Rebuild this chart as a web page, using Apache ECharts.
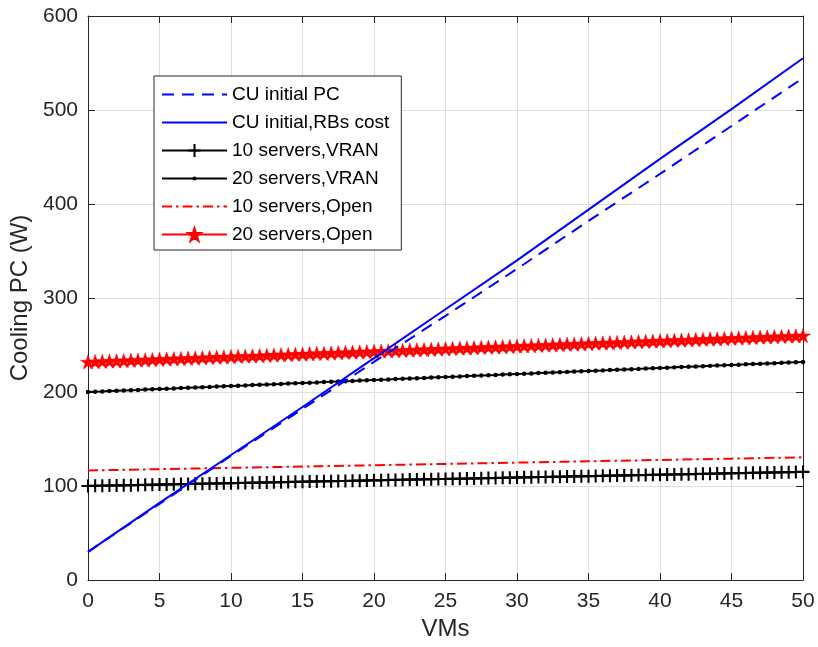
<!DOCTYPE html>
<html>
<head>
<meta charset="utf-8">
<script src="https://cdn.jsdelivr.net/npm/echarts@6/dist/echarts.min.js"></script>
<style>html,body{margin:0;padding:0;background:#fff;}#c{width:818px;height:647px;}</style>
</head>
<body>
<div id="c"></div>
<script>
// ---- data ----
var seriesNames = ['CU initial PC', 'CU initial,RBs cost', '10 servers,VRAN', '20 servers,VRAN', '10 servers,Open', '20 servers,Open'];
var xTicks = [0, 5, 10, 15, 20, 25, 30, 35, 40, 45, 50];
var yTicks = [0, 100, 200, 300, 400, 500, 600];

// blue lines (sampled every 5 VMs)
var blueX = [0, 5, 10, 15, 20, 25, 30, 35, 40, 45, 50];
var cuInitialPC = [30, 81, 132, 182, 232, 281, 331, 382, 432, 483, 534];
var cuInitialRBs = [30, 82, 133, 184, 236, 288, 340, 394, 448, 501, 555];

// open 10 servers (dash-dot, sampled every 5 VMs)
var open10 = [116.5, 117.9, 119.3, 120.7, 122.1, 123.5, 124.9, 126.3, 127.7, 129.1, 130.5];

// marker series (every 0.5 VM)
var markX = [0,0.5,1,1.5,2,2.5,3,3.5,4,4.5,5,5.5,6,6.5,7,7.5,8,8.5,9,9.5,10,10.5,11,11.5,12,12.5,13,13.5,14,14.5,15,15.5,16,16.5,17,17.5,18,18.5,19,19.5,20,20.5,21,21.5,22,22.5,23,23.5,24,24.5,25,25.5,26,26.5,27,27.5,28,28.5,29,29.5,30,30.5,31,31.5,32,32.5,33,33.5,34,34.5,35,35.5,36,36.5,37,37.5,38,38.5,39,39.5,40,40.5,41,41.5,42,42.5,43,43.5,44,44.5,45,45.5,46,46.5,47,47.5,48,48.5,49,49.5,50];
var vran10 = [100.0,100.2,100.3,100.5,100.6,100.8,100.9,101.1,101.2,101.4,101.5,
101.7,101.8,102.0,102.1,102.3,102.4,102.6,102.7,102.9,103.0,
103.2,103.3,103.5,103.6,103.8,103.9,104.1,104.2,104.4,104.5,
104.7,104.8,105.0,105.1,105.3,105.4,105.6,105.7,105.9,106.0,
106.2,106.3,106.5,106.6,106.8,106.9,107.1,107.2,107.4,107.5,
107.7,107.8,108.0,108.1,108.3,108.4,108.6,108.7,108.9,109.0,
109.2,109.3,109.5,109.6,109.8,109.9,110.1,110.2,110.4,110.5,
110.7,110.8,111.0,111.1,111.3,111.4,111.6,111.7,111.9,112.0,
112.2,112.3,112.5,112.6,112.8,112.9,113.1,113.2,113.4,113.5,
113.7,113.8,114.0,114.1,114.3,114.4,114.6,114.7,114.9,115.0];
var vran20 = [200.0,200.3,200.6,201.0,201.3,201.6,201.9,202.2,202.6,202.9,203.2,
203.5,203.8,204.2,204.5,204.8,205.1,205.4,205.8,206.1,206.4,
206.7,207.0,207.4,207.7,208.0,208.3,208.6,209.0,209.3,209.6,
209.9,210.2,210.6,210.9,211.2,211.5,211.8,212.2,212.5,212.8,
213.1,213.4,213.8,214.1,214.4,214.7,215.0,215.4,215.7,216.0,
216.3,216.6,217.0,217.3,217.6,217.9,218.2,218.6,218.9,219.2,
219.5,219.8,220.2,220.5,220.8,221.1,221.4,221.8,222.1,222.4,
222.7,223.0,223.4,223.7,224.0,224.3,224.6,225.0,225.3,225.6,
225.9,226.2,226.6,226.9,227.2,227.5,227.8,228.2,228.5,228.8,
229.1,229.4,229.8,230.1,230.4,230.7,231.0,231.4,231.7,232.0];
var open20 = [232.0,232.3,232.6,232.8,233.1,233.4,233.7,234.0,234.2,234.5,234.8,
235.1,235.4,235.6,235.9,236.2,236.5,236.8,237.0,237.3,237.6,
237.9,238.2,238.4,238.7,239.0,239.3,239.6,239.8,240.1,240.4,
240.7,241.0,241.2,241.5,241.8,242.1,242.4,242.6,242.9,243.2,
243.5,243.8,244.0,244.3,244.6,244.9,245.2,245.4,245.7,246.0,
246.3,246.6,246.8,247.1,247.4,247.7,248.0,248.2,248.5,248.8,
249.1,249.4,249.6,249.9,250.2,250.5,250.8,251.0,251.3,251.6,
251.9,252.2,252.4,252.7,253.0,253.3,253.6,253.8,254.1,254.4,
254.7,255.0,255.2,255.5,255.8,256.1,256.4,256.6,256.9,257.2,
257.5,257.8,258.0,258.3,258.6,258.9,259.2,259.4,259.7,260.0];

// ---- build ----
function zip(xs, ys) { return xs.map(function (x, i) { return [x, ys[i]]; }); }

var PLUS = 'path://M-1.6,-10h3.2v20h-3.2z M-10,-1.6h20v3.2h-20z';
var DOT = 'path://M-10,-10h0.05v0.05h-0.05z M10,10h-0.05v-0.05h0.05z M-3.2,0a3.2,3.2 0 1,0 6.4,0a3.2,3.2 0 1,0 -6.4,0z';
var STAR = 'path://M0,-100 L22.45,-30.9 L95.1,-30.9 L36.3,11.8 L58.8,80.9 L0,38.2 L-58.8,80.9 L-36.3,11.8 L-95.1,-30.9 L-22.45,-30.9 Z';

var axisColor = '#262626';
var font = 'Liberation Sans, Arial, Helvetica, sans-serif';
var noSymbol = { 0: true, 1: true, 4: true };

var legendData = seriesNames.map(function (n, i) {
  return noSymbol[i] ? { name: n, itemStyle: { opacity: 0 } } : { name: n };
});

var chart = echarts.init(document.getElementById('c'), null, { renderer: 'canvas' });
chart.setOption({
  animation: false,
  backgroundColor: '#ffffff',
  grid: { left: 88, right: 15, top: 16, bottom: 67, containLabel: false },
  legend: {
    orient: 'vertical',
    left: 154, top: 76,
    padding: [9, 12, 6, 7],
    itemGap: 9,
    itemWidth: 65,
    itemHeight: 16,
    backgroundColor: '#ffffff',
    borderColor: axisColor,
    borderWidth: 1,
    borderRadius: 0,
    textStyle: { fontFamily: font, fontSize: 19, color: '#000', lineHeight: 18 },
    data: legendData
  },
  xAxis: [{
    type: 'value', min: xTicks[0], max: xTicks[xTicks.length - 1], interval: 5,
    position: 'bottom',
    name: 'VMs', nameLocation: 'middle', nameGap: 36,
    nameTextStyle: { fontFamily: font, fontSize: 24, color: axisColor },
    axisLine: { show: true, onZero: false, lineStyle: { color: axisColor, width: 1 } },
    axisTick: { show: true, inside: true, length: 7, lineStyle: { color: axisColor } },
    axisLabel: { fontFamily: font, fontSize: 21, color: axisColor, margin: 11,
      formatter: function (v) { return xTicks.indexOf(v) >= 0 ? String(v) : ''; } },
    splitLine: { show: true, lineStyle: { color: '#dedede', width: 1 } }
  }, {
    type: 'value', min: 0, max: 50, interval: 5, position: 'top',
    axisLine: { show: true, onZero: false, lineStyle: { color: axisColor, width: 1 } },
    axisTick: { show: true, inside: true, length: 7, lineStyle: { color: axisColor } },
    axisLabel: { show: false }, splitLine: { show: false }
  }],
  yAxis: [{
    type: 'value', min: yTicks[0], max: yTicks[yTicks.length - 1], interval: 100,
    position: 'left',
    name: 'Cooling PC (W)', nameLocation: 'middle', nameGap: 52,
    nameTextStyle: { fontFamily: font, fontSize: 24, color: axisColor },
    axisLine: { show: true, onZero: false, lineStyle: { color: axisColor, width: 1 } },
    axisTick: { show: true, inside: true, length: 7, lineStyle: { color: axisColor } },
    axisLabel: { fontFamily: font, fontSize: 21, color: axisColor, margin: 10,
      formatter: function (v) { return yTicks.indexOf(v) >= 0 ? String(v) : ''; } },
    splitLine: { show: true, lineStyle: { color: '#dedede', width: 1 } }
  }, {
    type: 'value', min: 0, max: 600, interval: 100, position: 'right',
    axisLine: { show: true, onZero: false, lineStyle: { color: axisColor, width: 1 } },
    axisTick: { show: true, inside: true, length: 7, lineStyle: { color: axisColor } },
    axisLabel: { show: false }, splitLine: { show: false }
  }],
  series: [
    { name: seriesNames[0], type: 'line', data: zip(blueX, cuInitialPC), symbol: 'none', z: 6,
      lineStyle: { color: '#0000ff', width: 2, type: [12, 8] }, itemStyle: { color: '#0000ff' } },
    { name: seriesNames[1], type: 'line', data: zip(blueX, cuInitialRBs), symbol: 'none', z: 6,
      lineStyle: { color: '#0000ff', width: 2 }, itemStyle: { color: '#0000ff' } },
    { name: seriesNames[2], type: 'line', data: zip(markX, vran10), symbol: PLUS, symbolSize: 13, symbolKeepAspect: true, z: 3,
      lineStyle: { color: '#000000', width: 2 }, itemStyle: { color: '#000000' } },
    { name: seriesNames[3], type: 'line', data: zip(markX, vran20), symbol: DOT, symbolSize: 14, symbolKeepAspect: true, z: 3,
      lineStyle: { color: '#000000', width: 2 }, itemStyle: { color: '#000000' } },
    { name: seriesNames[4], type: 'line', data: zip(blueX, open10), symbol: 'none', z: 3,
      lineStyle: { color: '#ff0000', width: 2, type: [10, 4, 2.5, 4] }, itemStyle: { color: '#ff0000' } },
    { name: seriesNames[5], type: 'line', data: zip(markX, open20), symbol: STAR, symbolSize: 15, symbolKeepAspect: true, z: 4,
      lineStyle: { color: '#ff0000', width: 2 }, itemStyle: { color: '#ff0000', borderColor: '#ff0000', borderWidth: 0.5 } }
  ]
});
</script>
</body>
</html>
